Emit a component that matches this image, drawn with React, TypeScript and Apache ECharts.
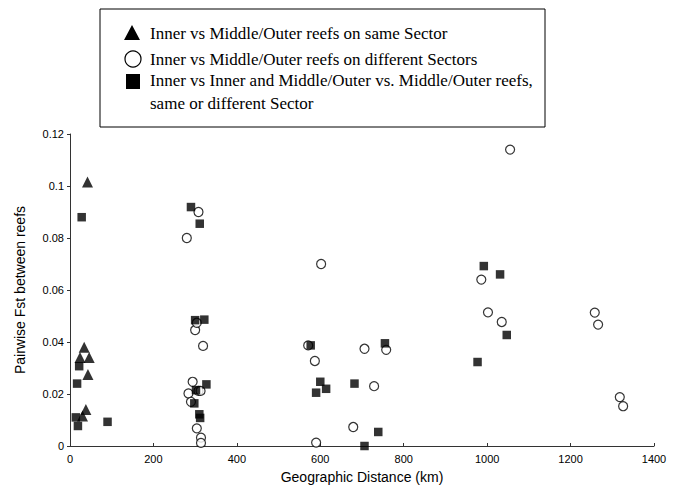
import React, { useEffect, useRef } from "react";
import * as echarts from "echarts";

// Geographic distance (km), pairwise Fst
const sameSector: [number, number][] = [
  [42, 0.1015], [34, 0.038], [24, 0.034], [46, 0.034], [43, 0.0275], [38, 0.014], [30, 0.0115],
];

const differentSectors: [number, number][] = [
  [308, 0.090], [280, 0.080], [300, 0.0446], [304, 0.0474], [319, 0.0385], [294, 0.0247],
  [284, 0.0202], [308, 0.0212], [313, 0.0212], [290, 0.017], [304, 0.0068], [314, 0.0032],
  [314, 0.0012],
  [602, 0.070], [571, 0.0387], [587, 0.0327], [590, 0.0013], [706, 0.0374], [758, 0.037],
  [729, 0.023], [679, 0.0073],
  [1055, 0.114], [986, 0.064], [1002, 0.0514], [1035, 0.0477], [1258, 0.0513], [1266, 0.0467],
  [1318, 0.0188], [1326, 0.0153],
];

const innerInner: [number, number][] = [
  [28, 0.088], [22, 0.0307], [17, 0.024], [14, 0.011], [19, 0.0077], [90, 0.0093],
  [290, 0.0919], [311, 0.0855], [300, 0.0484], [322, 0.0486], [302, 0.0215], [298, 0.0164],
  [327, 0.0237], [310, 0.0122], [312, 0.0108],
  [577, 0.0387], [600, 0.0247], [614, 0.022], [590, 0.0205], [682, 0.024], [755, 0.0395],
  [739, 0.0054], [706, 0.0],
  [992, 0.0692], [1031, 0.066], [1047, 0.0427], [977, 0.0323],
];

const legendLabels = [
  "Inner vs Middle/Outer reefs on same Sector",
  "Inner vs Middle/Outer reefs on different Sectors",
  "Inner vs Inner and Middle/Outer vs. Middle/Outer reefs,",
  "same or different Sector",
];

const xName = "Geographic Distance (km)";
const yName = "Pairwise Fst between reefs";

const sans = "Liberation Sans, Arial, sans-serif";
const serif = "Liberation Serif, Times New Roman, serif";

export default function App() {
  const ref = useRef<HTMLDivElement>(null);
  useEffect(() => {
    if (!ref.current) return;
    const chart = echarts.init(ref.current, undefined, { renderer: "svg" });
    const legendFont = { fontFamily: serif, fontSize: 17, fill: "#000" };
    chart.setOption({
      animation: false,
      backgroundColor: "#fff",
      grid: { left: 70, right: 21, top: 134, bottom: 49 },
      xAxis: {
        type: "value",
        min: 0,
        max: 1400,
        interval: 200,
        name: xName,
        nameLocation: "middle",
        nameGap: 24,
        nameTextStyle: { fontFamily: sans, fontSize: 14, color: "#000" },
        axisLine: { show: true, lineStyle: { color: "#333", width: 1 } },
        axisTick: { show: true, inside: true, length: 3, lineStyle: { color: "#333" } },
        axisLabel: {
          fontFamily: sans,
          fontSize: 11,
          color: "#000",
          margin: 7,
          formatter: (v: number) => String(v),
        },
        splitLine: { show: false },
      },
      yAxis: {
        type: "value",
        min: 0,
        max: 0.12,
        interval: 0.02,
        name: yName,
        nameLocation: "middle",
        nameGap: 43,
        nameTextStyle: { fontFamily: sans, fontSize: 14, color: "#000" },
        axisLine: { show: true, lineStyle: { color: "#333", width: 1 } },
        axisTick: { show: true, length: 3, lineStyle: { color: "#333" } },
        axisLabel: {
          fontFamily: sans,
          fontSize: 11,
          color: "#000",
          margin: 6,
          formatter: (v: number) => String(Math.round(v * 1000) / 1000),
        },
        splitLine: { show: false },
      },
      series: [
        {
          name: legendLabels[0],
          type: "scatter",
          symbol: "triangle",
          symbolSize: 11,
          itemStyle: { color: "#000" },
          data: sameSector,
          z: 3,
        },
        {
          name: legendLabels[1],
          type: "scatter",
          symbol: "circle",
          symbolSize: 9,
          itemStyle: { color: "#fff", borderColor: "#000", borderWidth: 1.2 },
          data: differentSectors,
          z: 2,
        },
        {
          name: legendLabels[2] + " " + legendLabels[3],
          type: "scatter",
          symbol: "rect",
          symbolSize: 8.5,
          itemStyle: { color: "#000" },
          data: innerInner,
          z: 4,
        },
      ],
      graphic: [
        {
          type: "rect",
          shape: { x: 100, y: 9, width: 445, height: 118 },
          style: { fill: "#fff", stroke: "#000", lineWidth: 1 },
          z: 10,
        },
        {
          type: "polygon",
          shape: { points: [[124, 40], [140, 40], [132, 25]] },
          style: { fill: "#000" },
          z: 11,
        },
        {
          type: "circle",
          shape: { cx: 133, cy: 59, r: 8 },
          style: { fill: "#fff", stroke: "#000", lineWidth: 1.2 },
          z: 11,
        },
        {
          type: "rect",
          shape: { x: 126, y: 74, width: 14, height: 15 },
          style: { fill: "#000" },
          z: 11,
        },
        { type: "text", x: 150, y: 33, style: { ...legendFont, text: legendLabels[0], verticalAlign: "middle" }, z: 11 },
        { type: "text", x: 150, y: 59, style: { ...legendFont, text: legendLabels[1], verticalAlign: "middle" }, z: 11 },
        { type: "text", x: 150, y: 80, style: { ...legendFont, text: legendLabels[2], verticalAlign: "middle" }, z: 11 },
        { type: "text", x: 150, y: 103, style: { ...legendFont, text: legendLabels[3], verticalAlign: "middle" }, z: 11 },
      ],
    });
    return () => chart.dispose();
  }, []);
  return <div ref={ref} style={{ width: 675, height: 495, position: "absolute", left: 0, top: 0 }} />;
}
